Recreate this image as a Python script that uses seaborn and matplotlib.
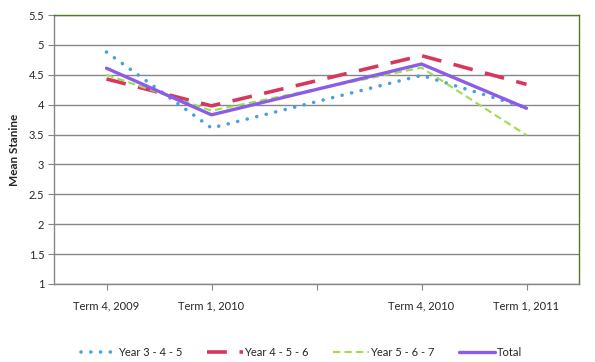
import matplotlib
matplotlib.use("Agg")
import matplotlib.pyplot as plt
import seaborn as sns
import pandas as pd

categories = ["Term 4, 2009", "Term 1, 2010", "", "Term 4, 2010", "Term 1, 2011"]
data_pos = [0, 1, 3, 4]
year345 = [4.88, 3.61, 4.49, 3.95]
year456 = [4.43, 3.98, 4.82, 4.34]
year567 = [4.50, 3.90, 4.62, 3.49]
total = [4.61, 3.83, 4.68, 3.94]
series_names = ["Year 3 - 4 - 5", "Year 4 - 5 - 6", "Year 5 - 6 - 7", "Total"]

sns.set_style("white")
plt.rcParams['font.family'] = ['Lato', 'DejaVu Sans']

fig = plt.figure(figsize=(5.95, 3.62), dpi=100)
ax = fig.add_axes([54/595, 78/362, 525/595, 269/362])

styles = {
    "Year 3 - 4 - 5": dict(color="#4A9FDF", lw=2.6, dashes=(0.01, 2.7), dash_capstyle="round"),
    "Year 4 - 5 - 6": dict(color="#D9365E", lw=2.6, dashes=(5.5, 3.5), dash_capstyle="butt"),
    "Year 5 - 6 - 7": dict(color="#9ADE4C", lw=1.5, dashes=(3.5, 2.0), dash_capstyle="butt"),
    "Total": dict(color="#8B5CE8", lw=2.4, dashes=None, dash_capstyle="butt"),
}
vals = [year345, year456, year567, total]
for name, v in zip(series_names, vals):
    df = pd.DataFrame({"x": data_pos, "y": v})
    st = styles[name]
    sns.lineplot(data=df, x="x", y="y", ax=ax, color=st["color"], linewidth=st["lw"], label=name)
    ln = ax.get_lines()[-1]
    if st["dashes"] is not None:
        ln.set_dashes(st["dashes"])
    ln.set_dash_capstyle(st["dash_capstyle"])

ax.set_xlim(-0.5, 4.5)
ax.set_ylim(1, 5.5)
ax.set_yticks([1, 1.5, 2, 2.5, 3, 3.5, 4, 4.5, 5, 5.5])
ax.set_yticklabels(["1", "1.5", "2", "2.5", "3", "3.5", "4", "4.5", "5", "5.5"])
ax.set_xticks(range(5))
ax.set_xticklabels(categories)
ax.grid(axis="y", color="#868686", linewidth=1)
ax.set_axisbelow(True)
ax.set_xlabel("")
ax.set_ylabel("Mean Stanine", fontsize=8.5, fontweight="bold", labelpad=6)

for s in ["left", "bottom"]:
    ax.spines[s].set_color("#868686")
    ax.spines[s].set_linewidth(1)
for s in ["top", "right"]:
    ax.spines[s].set_color("#4F7A28")
    ax.spines[s].set_linewidth(1)
ax.tick_params(axis="x", direction="out", length=4, color="#868686", labelsize=8, pad=8, bottom=True)
ax.tick_params(axis="y", direction="out", length=4, color="#868686", labelsize=8, pad=3, left=True)

handles, labels = ax.get_legend_handles_labels()
leg = ax.legend(handles, labels, loc="center", bbox_to_anchor=(0.5 - 15/525, -0.255), ncol=4,
                frameon=False, fontsize=8, handlelength=3.2, columnspacing=2.2, handletextpad=0.15)

fig.savefig("out.png", dpi=100)
